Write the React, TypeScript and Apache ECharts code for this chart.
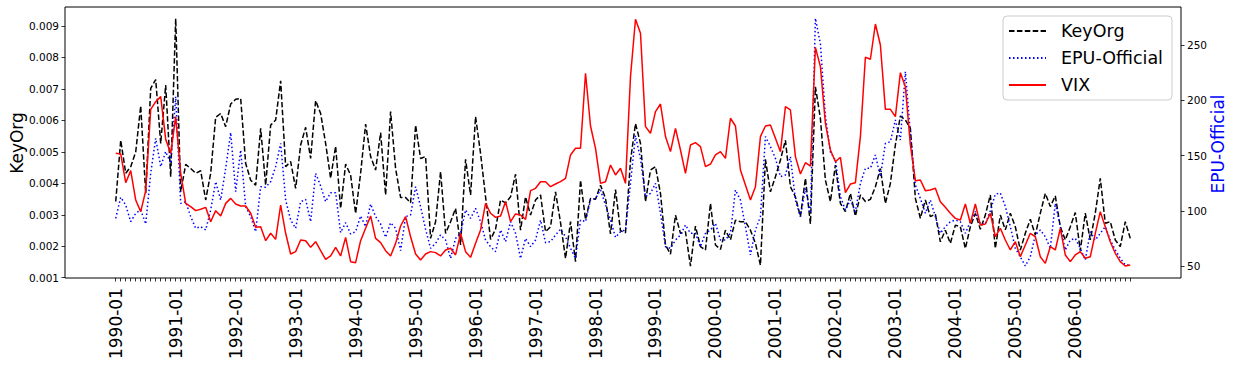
import React, { useEffect, useRef } from "react";
import * as echarts from "echarts";

// Month index 0 = 1990-01 ... 203 = 2006-12
const startYear = 1990;
const nMonths = 204;
const monthLabels: string[] = [];
for (let k = 0; k < nMonths; k++) {
  const y = startYear + Math.floor(k / 12);
  const m = (k % 12) + 1;
  monthLabels.push(`${y}-${m < 10 ? "0" + m : m}`);
}

const keyOrg = [
  0.00342, 0.00537, 0.00432, 0.00453, 0.005, 0.00646, 0.00368, 0.00702, 0.0073, 0.00527, 0.00712, 0.00421,
  0.00924, 0.00373, 0.0046, 0.00447, 0.00432, 0.0044, 0.00347, 0.00432, 0.0061, 0.00622, 0.0058, 0.00652,
  0.00667, 0.0067, 0.00463, 0.0041, 0.00394, 0.00575, 0.00394, 0.00585, 0.00601, 0.00726, 0.00453, 0.00469,
  0.00384, 0.00522, 0.00578, 0.00479, 0.00663, 0.00622, 0.00527, 0.00416, 0.00518, 0.0032, 0.00461, 0.00426,
  0.00304, 0.00432, 0.00588, 0.00485, 0.00442, 0.00561, 0.00363, 0.00628, 0.00447, 0.00355, 0.00355, 0.00338,
  0.00585, 0.00479, 0.00485, 0.00225, 0.00278, 0.00437, 0.00241, 0.00278, 0.0032, 0.00204, 0.00476, 0.00363,
  0.00612, 0.00495, 0.00357, 0.00222, 0.00254, 0.00347, 0.00338, 0.00357, 0.00429, 0.00251, 0.00357, 0.00299,
  0.00347, 0.00363, 0.00246, 0.00262, 0.00373, 0.00275, 0.00161, 0.00278, 0.00151, 0.0041, 0.00285, 0.00352,
  0.00349, 0.00394, 0.00352, 0.00239, 0.0038, 0.00249, 0.00243, 0.00472, 0.0059, 0.00527, 0.00342, 0.00442,
  0.00453, 0.00368, 0.00204, 0.00175, 0.00299, 0.00241, 0.00246, 0.00137, 0.00264, 0.00199, 0.00188, 0.00336,
  0.00204, 0.0019, 0.00251, 0.0022, 0.00283, 0.00278, 0.00278, 0.00251, 0.00209, 0.0014, 0.00476, 0.00373,
  0.00421, 0.00474, 0.00537, 0.00389, 0.00357, 0.00294, 0.00416, 0.00271, 0.00707, 0.00606, 0.0041, 0.00342,
  0.00458, 0.00336, 0.0031, 0.00368, 0.00296, 0.00363, 0.00342, 0.00349, 0.00389, 0.00447, 0.00336, 0.004,
  0.00522, 0.00614, 0.00601, 0.00575, 0.00352, 0.00289, 0.00347, 0.00294, 0.00302, 0.00214, 0.00251, 0.00209,
  0.00267, 0.00262, 0.00193, 0.00262, 0.00304, 0.00254, 0.00299, 0.00363, 0.00193, 0.00299, 0.00252, 0.00305,
  0.00262, 0.00188, 0.00241, 0.00286, 0.00236, 0.00305, 0.00368, 0.00326, 0.0036, 0.00262, 0.0022, 0.00262,
  0.00307, 0.00186, 0.00305, 0.0022, 0.00305, 0.00416, 0.00273, 0.00278, 0.0022, 0.00199, 0.00278, 0.00225,
];

const epuOfficial = [
  93.1, 112.2, 105.2, 90.1, 97.7, 100.7, 88.0, 133.9, 165.6, 139.9, 153.5, 142.9,
  203.3, 106.7, 108.2, 94.7, 84.1, 85.6, 82.6, 100.7, 126.3, 109.7, 138.4, 170.7,
  117.3, 155.0, 103.7, 94.7, 81.1, 121.8, 121.2, 126.3, 139.9, 161.0, 109.7, 91.6,
  84.1, 108.2, 110.3, 90.1, 133.9, 122.4, 108.2, 116.4, 116.4, 80.2, 89.2, 79.0,
  81.1, 95.3, 85.6, 106.1, 94.7, 88.0, 75.9, 89.2, 84.1, 63.9, 94.7, 96.2,
  121.8, 103.7, 83.2, 66.0, 70.5, 78.1, 73.5, 56.9, 75.0, 79.6, 100.7, 93.1,
  102.2, 90.1, 73.5, 67.5, 63.0, 82.6, 72.0, 90.1, 79.6, 56.9, 75.0, 67.5,
  73.5, 91.6, 71.1, 72.0, 78.1, 83.2, 76.5, 66.0, 56.9, 91.6, 90.1, 109.7,
  111.2, 118.8, 105.2, 91.6, 75.9, 81.1, 82.6, 125.0, 168.0, 147.0, 112.8, 115.8,
  124.8, 97.7, 67.5, 66.0, 73.5, 78.1, 87.1, 79.6, 79.6, 67.5, 79.6, 82.6,
  88.6, 73.5, 73.5, 79.6, 118.8, 109.7, 85.6, 60.0, 82.6, 94.7, 167.1, 158.0,
  147.4, 130.9, 132.4, 149.0, 109.7, 94.7, 120.3, 97.7, 274.2, 251.0, 185.2, 153.0,
  145.9, 112.8, 100.7, 109.7, 99.2, 124.8, 138.4, 138.4, 150.5, 130.9, 161.0, 162.5,
  182.1, 164.0, 225.9, 170.1, 123.3, 111.2, 97.7, 109.7, 94.7, 79.6, 85.6, 90.1,
  91.6, 90.1, 79.6, 90.1, 99.2, 88.0, 88.0, 100.0, 115.0, 116.0, 104.0, 85.6,
  66.0, 58.4, 50.0, 58.4, 78.1, 82.6, 76.5, 66.0, 106.7, 85.6, 64.5, 73.5,
  75.0, 66.0, 55.4, 81.1, 73.5, 79.6, 85.6, 73.5, 64.5, 57.0, 51.0, 51.0,
];

const vix = [
  152.0, 151.4, 125.4, 136.3, 109.7, 99.2, 118.2, 191.8, 198.7, 203.3, 164.6, 152.0,
  185.2, 133.9, 106.7, 103.7, 100.1, 101.3, 103.1, 90.1, 100.1, 95.3, 106.7, 111.2,
  106.1, 104.3, 104.3, 97.7, 85.0, 85.6, 72.9, 79.6, 74.1, 105.2, 79.6, 60.9,
  63.0, 73.5, 72.9, 66.9, 72.0, 63.9, 56.0, 59.1, 66.9, 59.1, 75.9, 53.9,
  53.0, 72.9, 84.1, 95.3, 75.0, 71.1, 63.9, 59.1, 70.5, 86.2, 94.7, 76.5,
  60.9, 55.4, 60.9, 63.0, 62.1, 59.1, 64.5, 66.0, 60.0, 79.6, 63.0, 57.8,
  70.5, 82.6, 106.7, 97.7, 94.0, 95.3, 108.2, 90.1, 97.1, 96.2, 92.2, 118.2,
  120.3, 126.3, 126.3, 121.8, 124.2, 126.3, 129.3, 150.5, 156.5, 156.5, 224.4, 176.7,
  156.5, 124.8, 126.3, 141.4, 132.4, 138.4, 124.8, 221.4, 273.3, 260.6, 176.1, 170.1,
  189.7, 196.6, 167.1, 153.5, 174.6, 155.0, 133.9, 159.5, 161.6, 158.0, 139.9, 142.3,
  150.5, 153.5, 147.4, 183.7, 176.7, 136.9, 123.3, 109.7, 121.8, 167.1, 176.7, 177.6,
  165.6, 153.5, 194.2, 191.2, 149.0, 133.3, 143.5, 140.5, 247.9, 230.4, 179.1, 155.0,
  144.4, 148.4, 116.4, 124.2, 125.4, 167.1, 238.9, 237.1, 269.0, 250.0, 191.8, 191.8,
  185.2, 225.0, 212.3, 159.5, 127.2, 127.8, 118.2, 118.8, 120.3, 108.2, 103.1, 97.7,
  93.1, 91.6, 106.1, 88.6, 106.1, 87.1, 88.0, 97.7, 76.5, 84.1, 73.5, 64.5,
  72.0, 58.4, 69.0, 79.6, 76.5, 58.4, 52.4, 67.5, 64.5, 84.1, 60.0, 54.0,
  60.0, 63.0, 57.0, 58.4, 79.6, 99.2, 85.6, 72.0, 61.5, 54.0, 50.0, 51.0,
];

const leftTicks = [0.001, 0.002, 0.003, 0.004, 0.005, 0.006, 0.007, 0.008, 0.009];
const rightTicks = [50, 100, 150, 200, 250];

const FONT = "DejaVu Sans";

export default function App() {
  const ref = useRef<HTMLDivElement>(null);
  useEffect(() => {
    if (!ref.current) return;
    const chart = echarts.init(ref.current, null, { renderer: "svg" });
    const tickIdx = monthLabels.map((_, k) => k);
    const labelIdx = tickIdx.filter((k) => k % 12 === 0);
    const pairs = (arr: number[]) => arr.map((v, k) => [k, v]);
    const tickStyle = { color: "#000", width: 0.8 };
    chart.setOption({
      animation: false,
      grid: {
        left: 65,
        top: 7,
        width: 1116,
        height: 271,
        show: true,
        borderColor: "#000",
        borderWidth: 1,
        backgroundColor: "transparent",
      },
      xAxis: {
        type: "value",
        position: "bottom",
        min: -10.15,
        max: 213.15,
        axisLine: { show: false, onZero: false },
        splitLine: { show: false },
        axisTick: {
          show: true,
          length: 3.5,
          customValues: tickIdx,
          lineStyle: tickStyle,
        },
        axisLabel: {
          customValues: labelIdx,
          formatter: (v: number) => monthLabels[Math.round(v)] ?? "",
          rotate: 90,
          fontSize: 17,
          margin: 10,
          color: "#000",
          fontFamily: FONT,
        },
      },
      yAxis: [
        {
          type: "value",
          position: "left",
          min: 0.00099,
          max: 0.009605,
          axisLine: { show: false, onZero: false },
          splitLine: { show: false },
          axisTick: {
            show: true,
            length: 3.5,
            customValues: leftTicks,
            lineStyle: tickStyle,
          },
          axisLabel: {
            customValues: leftTicks,
            formatter: (v: number) => v.toFixed(3),
            fontSize: 10.5,
            margin: 6,
            color: "#000",
            fontFamily: FONT,
          },
        },
        {
          type: "value",
          position: "right",
          min: 39.14,
          max: 284.4,
          axisLine: { show: false, onZero: false },
          splitLine: { show: false },
          axisTick: {
            show: true,
            length: 3.5,
            customValues: rightTicks,
            lineStyle: tickStyle,
          },
          axisLabel: {
            customValues: rightTicks,
            formatter: (v: number) => String(v),
            fontSize: 10.5,
            margin: 6,
            color: "#000",
            fontFamily: FONT,
          },
        },
      ],
      legend: {
        orient: "vertical",
        left: 1003,
        top: 16,
        padding: [6, 9, 6, 5],
        itemWidth: 37,
        itemHeight: 14,
        itemGap: 9,
        backgroundColor: "rgba(255,255,255,0.8)",
        borderColor: "#cccccc",
        borderWidth: 1,
        borderRadius: 4,
        itemStyle: { opacity: 0 },
        textStyle: {
          fontSize: 17.5,
          lineHeight: 18,
          color: "#000",
          fontFamily: FONT,
          padding: [0, 0, 0, 10],
        },
        data: ["KeyOrg", "EPU-Official", "VIX"],
      },
      graphic: [
        {
          type: "text",
          x: 17,
          y: 143,
          rotation: Math.PI / 2,
          style: {
            text: "KeyOrg",
            fontSize: 17,
            fontFamily: FONT,
            fill: "#000",
            align: "center",
            verticalAlign: "middle",
          },
        },
        {
          type: "text",
          x: 1218,
          y: 144,
          rotation: Math.PI / 2,
          style: {
            text: "EPU-Official",
            fontSize: 17,
            fontFamily: FONT,
            fill: "#0000ff",
            align: "center",
            verticalAlign: "middle",
          },
        },
      ],
      series: [
        {
          name: "KeyOrg",
          type: "line",
          yAxisIndex: 0,
          data: pairs(keyOrg),
          symbol: "none",
          showSymbol: false,
          lineStyle: { color: "#000000", width: 1.5, type: [5.5, 2.4] },
          itemStyle: { color: "#000000" },
        },
        {
          name: "EPU-Official",
          type: "line",
          yAxisIndex: 1,
          data: pairs(epuOfficial),
          symbol: "none",
          showSymbol: false,
          lineStyle: { color: "#0000ff", width: 1.5, type: [1.5, 2.5] },
          itemStyle: { color: "#0000ff" },
        },
        {
          name: "VIX",
          type: "line",
          yAxisIndex: 1,
          data: pairs(vix),
          symbol: "none",
          showSymbol: false,
          lineStyle: { color: "#ff0000", width: 1.5 },
          itemStyle: { color: "#ff0000" },
        },
      ],
    });
    return () => chart.dispose();
  }, []);
  return (
    <div
      ref={ref}
      style={{ position: "absolute", left: 0, top: 0, width: 1235, height: 368 }}
    />
  );
}
